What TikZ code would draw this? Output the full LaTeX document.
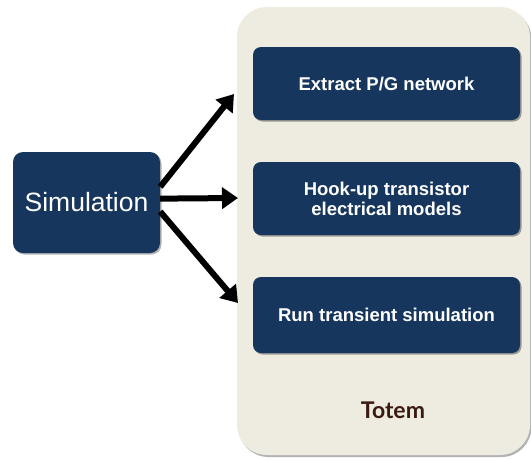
\documentclass[tikz,border=0pt]{standalone}
\usepackage{fontspec}
\setmainfont{Liberation Sans}
\newfontfamily\totemfont{Lato}
\usetikzlibrary{arrows.meta,shadows}
\definecolor{navy}{HTML}{17365D}
\definecolor{panel}{HTML}{EEECE1}
\definecolor{totembrown}{HTML}{3B1A12}
\tikzset{
  stepbox/.style={fill=navy, rounded corners=8pt, minimum width=267pt, minimum height=73pt,
    text=white, font=\fontsize{18.5}{20}\selectfont\bfseries, align=center, inner sep=0pt,
    drop shadow={shadow xshift=1.5pt, shadow yshift=-1.5pt, fill=black, opacity=0.35}},
  simbox/.style={fill=navy, rounded corners=10pt, minimum width=147pt, minimum height=101pt,
    text=white, font=\fontsize{26.5}{30}\selectfont, inner sep=0pt,
    drop shadow={shadow xshift=1.5pt, shadow yshift=-1.5pt, fill=black, opacity=0.3}},
  panelbox/.style={fill=panel, rounded corners=30pt, minimum width=293pt, minimum height=448pt, inner sep=0pt,
    drop shadow={shadow xshift=1.5pt, shadow yshift=-2pt, fill=black, opacity=0.3}},
  bigarrow/.style={line width=6pt, -{Triangle[length=16pt, width=21pt]}}
}
\begin{document}
\begin{tikzpicture}[x=1pt,y=-1pt]
\useasboundingbox (0,0) rectangle (531,459);
\node[panelbox] (panel) at (383.5,231) {};
\node[stepbox] (b1) at (386.5,83.5) {Extract P/G network};
\node[stepbox] (b2) at (386.5,198.5) {Hook-up transistor\\electrical models};
\node[stepbox, minimum height=76pt] (b3) at (386.5,315) {Run transient simulation};
\node[font=\totemfont\bfseries\fontsize{23}{26}\selectfont, text=totembrown] (totem) at (393,410) {Totem};
\node[simbox] (sim) at (86.5,202.5) {Simulation};
\coordinate (t1) at (234,94);
\coordinate (t2) at (238,198);
\coordinate (t3) at (238,303);
\draw[bigarrow] (sim.12) -- (t1);
\draw[bigarrow] (sim.3) -- (t2);
\draw[bigarrow] (sim.-7) -- (t3);
\end{tikzpicture}
\end{document}
